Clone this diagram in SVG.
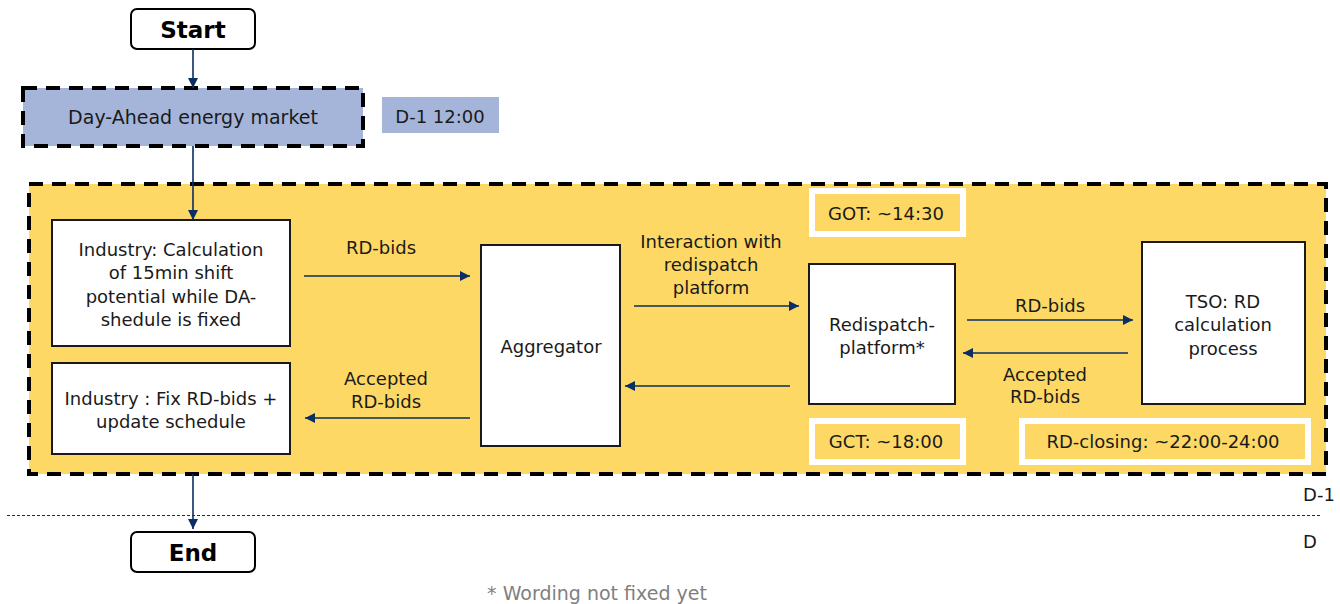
<svg xmlns="http://www.w3.org/2000/svg" width="1340" height="604" viewBox="0 0 1340 604">
<defs>
<marker id="ah" viewBox="0 0 10 10" refX="10" refY="5" markerWidth="10" markerHeight="10" markerUnits="userSpaceOnUse" orient="auto">
<path d="M0,0 L10,5 L0,10 z" fill="#0B2E63"/>
</marker>
<style>
.t{font-family:"DejaVu Sans","Liberation Sans",sans-serif;font-size:18px;fill:#1a1a1a;text-anchor:middle;dominant-baseline:central}
.b{font-family:"DejaVu Sans","Liberation Sans",sans-serif;font-size:23px;font-weight:bold;fill:#000;text-anchor:middle;dominant-baseline:central}
.box{fill:#fff;stroke:#1a1a1a;stroke-width:2}
.term{fill:#fff;stroke:#000;stroke-width:2}
.dash{stroke:#000;stroke-width:4;stroke-dasharray:14 9}
.wb{fill:#FDD865;stroke:#fff;stroke-width:6}
.c{stroke:#0B2E63;stroke-width:1.6;fill:none;marker-end:url(#ah)}
</style>
</defs>
<rect x="0" y="0" width="1340" height="604" fill="#fff"/>
<g id="container">
<rect x="29" y="184" width="1297" height="290" fill="#FDD865" class="dash"/>
</g>
<g id="start"><rect class="term" x="131" y="9" width="124" height="40" rx="6"/><text class="b" x="193" y="30">Start</text></g>
<g id="da"><rect x="23" y="88" width="340" height="58" fill="#A5B5D9" class="dash"/><text class="t" x="193" y="117" style="font-size:19px">Day-Ahead energy market</text></g>
<g id="da-time"><rect x="382" y="97" width="117" height="36" fill="#A5B5D9"/><text class="t" x="440" y="116">D-1 12:00</text></g>
<g id="ind1"><rect class="box" x="52" y="220" width="238" height="126"/>
<text class="t" x="171" y="249">Industry: Calculation</text>
<text class="t" x="171" y="272">of 15min shift</text>
<text class="t" x="171" y="296">potential while DA-</text>
<text class="t" x="171" y="319">shedule is fixed</text></g>
<g id="ind2"><rect class="box" x="52" y="363" width="238" height="91"/>
<text class="t" x="171" y="398">Industry : Fix RD-bids +</text>
<text class="t" x="171" y="421">update schedule</text></g>
<g id="agg"><rect class="box" x="481" y="245" width="139" height="201"/><text class="t" x="551" y="346">Aggregator</text></g>
<g id="rdp"><rect class="box" x="809" y="264" width="146" height="140"/><text class="t" x="882" y="324">Redispatch-</text><text class="t" x="882" y="347">platform*</text></g>
<g id="tso"><rect class="box" x="1142" y="242" width="163" height="162"/><text class="t" x="1223" y="301">TSO: RD</text><text class="t" x="1223" y="324">calculation</text><text class="t" x="1223" y="348">process</text></g>
<g id="got"><rect class="wb" x="812" y="191" width="151" height="43"/><text class="t" x="886" y="213">GOT: ~14:30</text></g>
<g id="gct"><rect class="wb" x="812" y="421" width="151" height="41"/><text class="t" x="886" y="441">GCT: ~18:00</text></g>
<g id="rdc"><rect class="wb" x="1022" y="421" width="286" height="41"/><text class="t" x="1163" y="441">RD-closing: ~22:00-24:00</text></g>
<g id="end"><rect class="term" x="131" y="532" width="124" height="40" rx="6"/><text class="b" x="193" y="553">End</text></g>
<g id="connectors">
<line class="c" x1="193" y1="49" x2="193" y2="88"/>
<line class="c" x1="193" y1="146" x2="193" y2="220"/>
<line class="c" x1="304" y1="276" x2="470" y2="276"/>
<line class="c" x1="470" y1="418" x2="305" y2="418"/>
<line class="c" x1="634" y1="306" x2="799" y2="306"/>
<line class="c" x1="790" y1="386" x2="625" y2="386"/>
<line class="c" x1="967" y1="320" x2="1133" y2="320"/>
<line class="c" x1="1128" y1="353" x2="963" y2="353"/>
<line class="c" x1="193" y1="474" x2="193" y2="529"/>
<text class="t" x="381" y="247">RD-bids</text>
<text class="t" x="386" y="378">Accepted</text>
<text class="t" x="386" y="401">RD-bids</text>
<text class="t" x="711" y="241">Interaction with</text>
<text class="t" x="711" y="264">redispatch</text>
<text class="t" x="711" y="287">platform</text>
<text class="t" x="1050" y="305">RD-bids</text>
<text class="t" x="1045" y="374">Accepted</text>
<text class="t" x="1045" y="396">RD-bids</text>
</g>
<line x1="7" y1="515.5" x2="1320" y2="515.5" stroke="#0B2E63" stroke-width="1" stroke-dasharray="3 2"/>
<text class="t" x="1319" y="494">D-1</text>
<text class="t" x="1310" y="541">D</text>
<text class="t" x="597" y="593" style="fill:#7F7F7F;font-size:19px">* Wording not fixed yet</text>
</svg>
